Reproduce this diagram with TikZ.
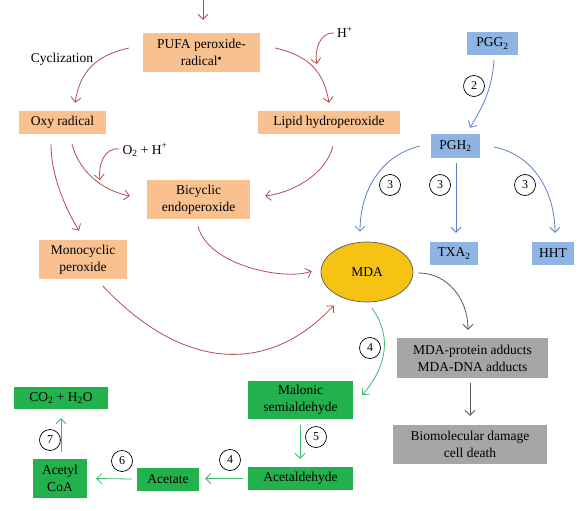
\documentclass[tikz,border=0pt]{standalone}
\usepackage{fontspec}
\setmainfont{Liberation Serif}
\usetikzlibrary{arrows.meta,shapes.geometric}
\definecolor{orangefill}{RGB}{248,193,143}
\definecolor{bluefill}{RGB}{142,180,227}
\definecolor{greenfill}{RGB}{34,177,76}
\definecolor{grayfill}{RGB}{166,166,166}
\definecolor{goldfill}{RGB}{245,195,20}
\definecolor{redline}{RGB}{184,75,80}
\definecolor{blueline}{RGB}{91,128,196}
\definecolor{greenline}{RGB}{60,185,110}
\definecolor{grayline}{RGB}{90,90,90}
\tikzset{
  txt/.style={font=\fontsize{13.5}{17}\selectfont, align=center, inner sep=0pt},
  box/.style={txt, rectangle, minimum width=#1},
  obox/.style={box=#1, fill=orangefill},
  bbox/.style={box=#1, fill=bluefill},
  gbox/.style={box=#1, fill=greenfill},
  ybox/.style={box=#1, fill=grayfill},
  num/.style={circle, draw=black, line width=0.7pt, minimum size=21pt, inner sep=0pt, font=\fontsize{12}{12}\selectfont},
  arr/.style={line width=0.8pt, -{Straight Barb[length=5pt,width=10pt]}},
  rarr/.style={arr, draw=redline},
  barr/.style={arr, draw=blueline},
  garr/.style={arr, draw=greenline},
  karr/.style={arr, draw=grayline},
}
\begin{document}
\begin{tikzpicture}[x=1pt,y=-1pt]
\useasboundingbox[fill=white] (0,0) rectangle (578,511);

% orange boxes
\node[obox=117pt, minimum height=39pt] (pufa) at (201.5,52.5) {PUFA peroxide-\\radical\textsuperscript{\scriptsize$\bullet$}};
\node[obox=87pt, minimum height=23pt] (oxy) at (62.5,122.5) {Oxy radical};
\node[obox=142pt, minimum height=23pt] (lipid) at (329,122.5) {Lipid hydroperoxide};
\node[obox=103pt, minimum height=39pt] (bicyc) at (198.5,199.5) {Bicyclic\\endoperoxide};
\node[obox=88pt, minimum height=39pt] (mono) at (83,259.5) {Monocyclic\\peroxide};

% labels
\node[txt] (cycl) at (62,59) {Cyclization};
\node[txt] (hplus) at (345,32) {H\textsuperscript{+}};
\node[txt] (o2h) at (145,150) {O\textsubscript{2} + H\textsuperscript{+}};
\coordinate (hend) at (317,64);
\coordinate (o2end) at (100,180);

% MDA
\node[ellipse, draw=grayline, line width=0.7pt, fill=goldfill, minimum width=92pt, minimum height=60pt, inner sep=0pt, font=\fontsize{13.5}{15.5}\selectfont] (mda) at (367,272) {MDA};

% blue boxes
\node[bbox=51pt, minimum height=23pt] (pgg) at (492.5,43.5) {PGG\textsubscript{2}};
\node[bbox=49pt, minimum height=24pt] (pgh) at (455.5,146) {PGH\textsubscript{2}};
\node[bbox=48pt, minimum height=23pt] (txa) at (454,253.5) {TXA\textsubscript{2}};
\node[bbox=42pt, minimum height=23pt] (hht) at (553,253.5) {HHT};

% gray boxes
\node[ybox=151pt, minimum height=40pt] (add) at (472.5,358) {MDA-protein adducts\\MDA-DNA adducts};
\node[ybox=154pt, minimum height=39pt] (bio) at (470,444.5) {Biomolecular damage\\cell death};

% green boxes
\node[gbox=105pt, minimum height=38pt] (mal) at (300.5,400) {Malonic\\semialdehyde};
\node[gbox=105pt, minimum height=23pt] (ald) at (300.5,478.5) {Acetaldehyde};
\node[gbox=62pt, minimum height=23pt] (acet) at (168,479.5) {Acetate};
\node[gbox=54pt, minimum height=39pt] (acoa) at (60,478.5) {Acetyl\\CoA};
\node[gbox=94pt, minimum height=22pt] (co2) at (61,398) {CO\textsubscript{2} + H\textsubscript{2}O};

% numbers
\node[num] (n2) at (474,86) {2};
\node[num] (n3a) at (390,185) {3};
\node[num] (n3b) at (440,185) {3};
\node[num] (n3c) at (525,185) {3};
\node[num] (n4a) at (370,348) {4};
\node[num] (n5) at (316,437) {5};
\node[num] (n4b) at (230,460) {4};
\node[num] (n6) at (122,461) {6};
\node[num] (n7) at (50,440) {7};

% red arrows
\draw[rarr] ([shift={(1.5,-33)}]pufa.north) -- ([shift={(1.5,-13)}]pufa.north);
\draw[rarr] ([shift={(-14,-4.5)}]pufa.west) .. controls +(-35,8) and +(5,-30) .. ([shift={(12.5,-8)}]oxy.north);
\draw[rarr] ([shift={(15,-4.5)}]pufa.east) .. controls +(35,8) and +(-5,-30) .. ([shift={(0,-8)}]lipid.north);
\draw[rarr] ([shift={(-3,1)}]hplus.west) .. controls +(-14,-1) and +(-3,-14) .. (hend);
\draw[rarr] ([shift={(-11.5,10)}]oxy.south) .. controls +(0,30) and +(-15,-25) .. ([shift={(-4,-9)}]mono.north);
\draw[rarr] ([shift={(9.5,10)}]oxy.south) .. controls +(8,30) and +(-25,-5) .. ([shift={(-17,-3.5)}]bicyc.west);
\draw[rarr] ([shift={(-3,-1)}]o2h.west) .. controls +(-15,-2) and +(-2,-15) .. (o2end);
\draw[rarr] ([shift={(4,12)}]lipid.south) .. controls +(-8,30) and +(25,-3) .. ([shift={(15,-3.5)}]bicyc.east);
\draw[rarr] ([shift={(-0.5,7)}]bicyc.south) .. controls +(10,40) and +(-25,10) .. ([shift={(-9,-1)}]mda.west);
\draw[rarr] ([shift={(20,7)}]mono.south) .. controls +(80,85) and +(-65,70) .. ([shift={(-0.5,12)}]mda.south west);

% blue arrows
\draw[barr] ([shift={(1.5,5)}]pgg.south) .. controls +(-2,30) and +(12,-20) .. ([shift={(14.5,-6)}]pgh.north);
\draw[barr] ([shift={(-11,0)}]pgh.west) .. controls +(-40,10) and +(0,-40) .. ([shift={(-7,-10)}]mda.north);
\draw[barr] ([shift={(0.5,5)}]pgh.south) -- ([shift={(2,-9)}]txa.north);
\draw[barr] ([shift={(14,1)}]pgh.east) .. controls +(40,8) and +(0,-40) .. ([shift={(2,-9)}]hht.north);

% gray arrows
\draw[karr] ([shift={(5,1)}]mda.east) .. controls +(30,0) and +(0,-30) .. ([shift={(-4.5,-8)}]add.north);
\draw[karr] ([shift={(-2.5,5)}]add.south) -- ([shift={(0,-9)}]bio.north);

% green arrows
\draw[garr] ([shift={(5,6)}]mda.south) .. controls +(22,30) and +(22,-25) .. ([shift={(9,-5)}]mal.east);
\draw[garr] ([shift={(-0.5,6)}]mal.south) -- ([shift={(-0.5,-8)}]ald.north);
\draw[garr] ([shift={(-5,0)}]ald.west) -- ([shift={(6,-1)}]acet.east);
\draw[garr] ([shift={(-5,-0.5)}]acet.west) -- ([shift={(9,0)}]acoa.east);
\draw[garr] ([shift={(1,-7)}]acoa.north) -- ([shift={(0,9)}]co2.south);
\end{tikzpicture}
\end{document}
